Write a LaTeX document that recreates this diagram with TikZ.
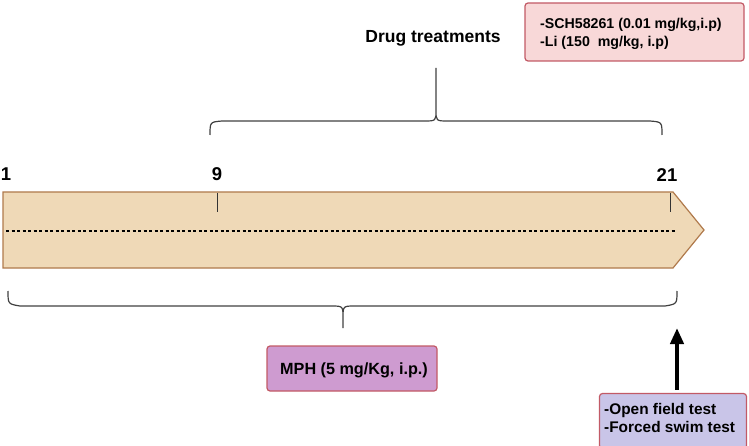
\documentclass[tikz,border=0pt]{standalone}
\usepackage{fontspec}
\setmainfont{Liberation Sans}
\usetikzlibrary{arrows.meta}
\definecolor{bodyfill}{HTML}{EFD9B7}
\definecolor{bodyline}{HTML}{B07A4C}
\definecolor{pinkfill}{HTML}{F8D8D8}
\definecolor{boxline}{HTML}{C25A66}
\definecolor{mphfill}{HTML}{CE9BD0}
\definecolor{lavfill}{HTML}{C9C5E8}
\tikzset{
  lbl/.style={font=\bfseries\fontsize{14.2}{18}\selectfont, inner sep=0pt, align=left},
  num/.style={font=\bfseries\fontsize{18.5}{20}\selectfont, inner sep=0pt},
  infobox/.style={draw=boxline, line width=1.2pt, rounded corners=3pt, inner sep=0pt},
  brace/.style={draw=black!75, line width=1.2pt},
  tick/.style={draw=black!80, line width=0.9pt}
}
\begin{document}
\begin{tikzpicture}[x=1pt,y=-1pt]
\useasboundingbox (0,0) rectangle (749,446);
% timeline body
\draw[fill=bodyfill, draw=bodyline, line width=1.2pt] (3,192) -- (673,192) -- (704,230) -- (673,268) -- (3,268) -- cycle;
\draw[line width=1.3pt, dash pattern=on 3pt off 2.5pt] (6,231) -- (675,231);
\coordinate (t9a) at (217,193); \coordinate (t9b) at (217,212);
\coordinate (t21a) at (670,193); \coordinate (t21b) at (670,212);
\draw[tick] (t9a) -- (t9b);
\draw[tick] (t21a) -- (t21b);
\node[num] (n1) at (6,174) {1};
\node[num] (n9) at (217,174) {9};
\node[num] (n21) at (667,175) {21};
% top brace
\draw[brace] (210,135) .. controls (210,122) .. (222,121) -- (424,121) .. controls (436,121) .. (436,110) -- (436,68)
             (436,110) .. controls (436,121) .. (448,121) -- (650,121) .. controls (662,122) .. (662,135);
\node[font=\bfseries\fontsize{17.5}{20}\selectfont, inner sep=0pt] (drug) at (433,38) {Drug treatments};
\node[infobox, fill=pinkfill, minimum width=219pt, minimum height=58pt] (pink) at (634.5,32) {};
\node[lbl, anchor=west] (pinktxt) at (540,34) {-SCH58261 (0.01 mg/kg,i.p)\\-Li (150\ \ mg/kg, i.p)};
% bottom brace
\draw[brace] (8,291) .. controls (8,304) .. (20,306) -- (331,306) .. controls (343,306) .. (343,318) -- (343,328)
             (343,318) .. controls (343,306) .. (355,306) -- (665,306) .. controls (677,304) .. (677,291);
\node[infobox, fill=mphfill, minimum width=170pt, minimum height=45pt] (mph) at (352,368.5) {};
\node[lbl, font=\bfseries\fontsize{16.2}{18}\selectfont] (mphtxt) at (354,370) {MPH (5 mg/Kg, i.p.)};
% tests
\node[infobox, fill=lavfill, minimum width=147pt, minimum height=55pt] (tests) at (673,421) {};
\node[lbl, anchor=west, font=\bfseries\fontsize{15.4}{18}\selectfont] (teststxt) at (604,418) {-Open field test\\-Forced swim test};
\coordinate (arrtop) at (677,328);
\draw[line width=4pt, -{Triangle[length=16pt, width=13pt]}] (tests.north -| arrtop) ++(0,-3) -- (arrtop);
\end{tikzpicture}
\end{document}
